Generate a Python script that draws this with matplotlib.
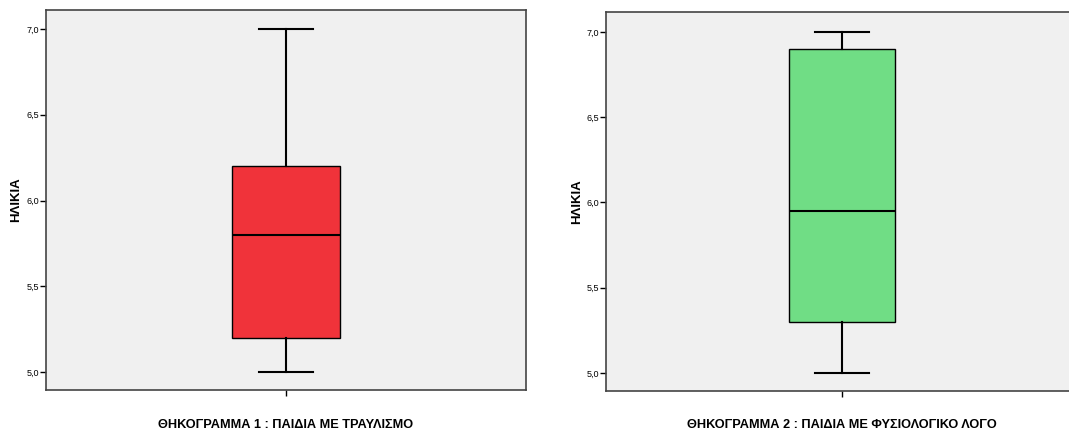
import matplotlib.pyplot as plt
from matplotlib.ticker import FuncFormatter

plt.rcParams['font.family'] = ['Liberation Sans', 'DejaVu Sans']

# summary values for each group (whisker low, Q1, median, Q3, whisker high)
stutter_stats = [5.0, 5.2, 5.8, 6.2, 7.0]
normal_stats = [5.0, 5.3, 5.95, 6.9, 7.0]
yticks = [5.0, 5.5, 6.0, 6.5, 7.0]
titles = ["ΘΗΚΟΓΡΑΜΜΑ 1 : ΠΑΙΔΙΑ ΜΕ ΤΡΑΥΛΙΣΜΟ",
          "ΘΗΚΟΓΡΑΜΜΑ 2 : ΠΑΙΔΙΑ ΜΕ ΦΥΣΙΟΛΟΓΙΚΟ ΛΟΓΟ"]
colors = ["#F0333A", "#70DD85"]


def make_stats(v):
    return {"whislo": v[0], "q1": v[1], "med": v[2], "q3": v[3],
            "whishi": v[4], "fliers": []}


def draw_box(ax, values, color, ylim, capw, labelx):
    ax.set_facecolor("#F0F0F0")
    ax.bxp([make_stats(values)], positions=[1], widths=0.225,
           capwidths=capw, showfliers=False, patch_artist=True,
           boxprops=dict(facecolor=color, edgecolor="black", linewidth=1.0),
           medianprops=dict(color="black", linewidth=1.5),
           whiskerprops=dict(color="black", linewidth=1.5),
           capprops=dict(color="black", linewidth=1.5))
    ax.set_xlim(0.5, 1.5)
    ax.set_ylim(*ylim)
    ax.set_yticks(yticks)
    ax.yaxis.set_major_formatter(FuncFormatter(lambda v, p: f"{v:.1f}".replace(".", ",")))
    ax.set_xticks([1])
    ax.set_xticklabels([""])
    ax.tick_params(axis="y", labelsize=6.5, length=4, width=1, colors="black", pad=1)
    ax.tick_params(axis="x", length=4, width=1)
    for s in ax.spines.values():
        s.set_color("#444444")
        s.set_linewidth(1.2)
    ax.set_ylabel("ΗΛΙΚΙΑ", fontsize=9.5, fontweight="bold")
    ax.yaxis.set_label_coords(labelx, 0.5)


fig = plt.figure(figsize=(10.69, 4.34), dpi=100)
ax1 = fig.add_axes([0.0430, 0.1014, 0.449, 0.8756])
ax2 = fig.add_axes([0.5669, 0.0991, 0.4415, 0.8733])

draw_box(ax1, stutter_stats, colors[0], (4.895, 7.111), 0.1125, -0.050)
draw_box(ax2, normal_stats, colors[1], (4.894, 7.117), 0.114, -0.049)

fig.text(286 / 1069, 1 - 425 / 434, titles[0], ha="center", va="center",
         fontsize=9.2, fontweight="bold")
fig.text(842 / 1069, 1 - 425 / 434, titles[1], ha="center", va="center",
         fontsize=9.2, fontweight="bold")

fig.savefig("out.png", dpi=100)
